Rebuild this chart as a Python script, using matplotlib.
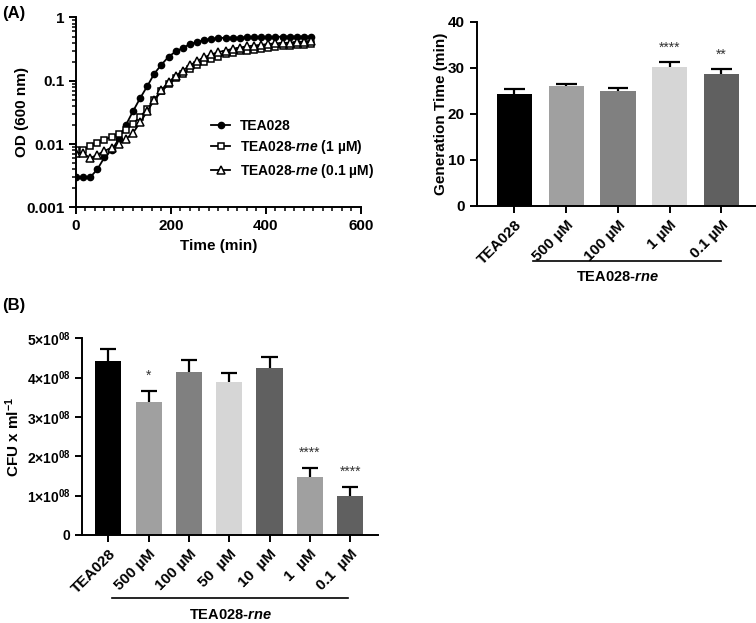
import numpy as np
import matplotlib
matplotlib.use('Agg')
import matplotlib.pyplot as plt
from matplotlib import ticker
from matplotlib.transforms import blended_transform_factory

plt.rcParams['font.family'] = ['Liberation Sans', 'DejaVu Sans']
plt.rcParams['font.weight'] = 'bold'
plt.rcParams['axes.labelweight'] = 'bold'
plt.rcParams['mathtext.fontset'] = 'custom'
plt.rcParams['mathtext.rm'] = 'Liberation Sans:bold'
plt.rcParams['mathtext.bf'] = 'Liberation Sans:bold'
plt.rcParams['mathtext.it'] = 'Liberation Sans:italic:bold'
plt.rcParams['axes.linewidth'] = 1.4
plt.rcParams['xtick.major.width'] = 1.4
plt.rcParams['ytick.major.width'] = 1.4
plt.rcParams['xtick.minor.width'] = 1.1
plt.rcParams['ytick.minor.width'] = 1.1

# growth curves (OD600)
time_min = [0, 15, 30, 45, 60, 75, 90, 105, 120, 135, 150, 165, 180, 195, 210, 225, 240,
            255, 270, 285, 300, 315, 330, 345, 360, 375, 390, 405, 420, 435, 450, 465, 480, 495]
od_wt = [0.003, 0.003, 0.003, 0.004, 0.0062, 0.008, 0.012, 0.02, 0.033, 0.053, 0.082, 0.13,
         0.18, 0.24, 0.29, 0.33, 0.38, 0.41, 0.44, 0.46, 0.47, 0.48, 0.48, 0.48, 0.49, 0.49,
         0.49, 0.49, 0.49, 0.50, 0.50, 0.50, 0.50, 0.50]
od_1um = [0.0082, 0.0082, 0.0093, 0.0105, 0.0118, 0.013, 0.0147, 0.017, 0.021, 0.027, 0.036,
          0.05, 0.068, 0.088, 0.11, 0.13, 0.155, 0.18, 0.2, 0.22, 0.24, 0.26, 0.275, 0.29,
          0.30, 0.31, 0.32, 0.33, 0.34, 0.35, 0.36, 0.365, 0.37, 0.38]
od_01um = [0.0072, 0.0072, 0.006, 0.0068, 0.0078, 0.0088, 0.01, 0.012, 0.015, 0.022, 0.033,
           0.05, 0.072, 0.095, 0.12, 0.145, 0.175, 0.205, 0.235, 0.26, 0.285, 0.3, 0.32,
           0.335, 0.35, 0.36, 0.37, 0.38, 0.39, 0.395, 0.40, 0.41, 0.415, 0.42]
curve_labels = ['TEA028', r'TEA028-$\it{rne}$ (1 µM)', r'TEA028-$\it{rne}$ (0.1 µM)']

# generation time
gen_labels = ['TEA028', '500 µM', '100 µM', '1 µM', '0.1 µM']
gen_time = [24.3, 26.0, 24.9, 30.2, 28.6]
gen_err = [1.0, 0.5, 0.7, 1.1, 1.2]
gen_colors = ['#000000', '#a0a0a0', '#808080', '#d6d6d6', '#606060']
gen_stars = ['', '', '', '****', '**']

# CFU counts
cfu_labels = ['TEA028', '500 µM', '100 µM', '50  µM', '10  µM', '1  µM', '0.1  µM']
cfu = [4.43e8, 3.39e8, 4.15e8, 3.90e8, 4.24e8, 1.48e8, 0.99e8]
cfu_err = [0.29e8, 0.28e8, 0.30e8, 0.21e8, 0.29e8, 0.22e8, 0.24e8]
cfu_colors = ['#000000', '#a0a0a0', '#808080', '#d6d6d6', '#606060', '#a0a0a0', '#606060']
cfu_stars = ['', '*', '', '', '', '****', '****']
cfu_ticklabels = ['0', r'$1{\times}10^{08}$', r'$2{\times}10^{08}$', r'$3{\times}10^{08}$',
                  r'$4{\times}10^{08}$', r'$5{\times}10^{08}$']

fig = plt.figure(figsize=(7.56, 6.23), dpi=100)


def style(ax):
    ax.spines['top'].set_visible(False)
    ax.spines['right'].set_visible(False)
    ax.tick_params(direction='out', length=5, labelsize=11)
    ax.tick_params(which='minor', direction='out', length=3)


def bars(ax, labels, vals, errs, colors, stars, width, cap, pad):
    x = np.arange(len(vals))
    ax.bar(x, vals, width=width, color=colors, edgecolor='none', zorder=2)
    tops = np.array(vals) + np.array(errs)
    ax.vlines(x, vals, tops, color='black', lw=1.6, zorder=3)
    ax.hlines(tops, x - cap, x + cap, color='black', lw=1.6, zorder=3)
    for xi, t, s in zip(x, tops, stars):
        if s:
            ax.text(xi, t + pad, s, ha='center', va='bottom', fontsize=10,
                    fontweight='normal', color='#333333')
    ax.set_xticks(x)
    ax.set_xticklabels(labels, rotation=45, ha='right', rotation_mode='anchor')
    style(ax)


# (A) growth curve
ax1 = fig.add_axes([0.1005, 0.667, 0.377, 0.305])
ax1.plot(time_min, od_wt, '-o', color='black', ms=4.5, lw=1.3, label=curve_labels[0])
ax1.plot(time_min, od_1um, '-s', color='black', mfc='white', ms=5, mew=1.1, lw=1.3,
         label=curve_labels[1])
ax1.plot(time_min, od_01um, '-^', color='black', mfc='white', ms=5.5, mew=1.1, lw=1.3,
         label=curve_labels[2])
ax1.set_yscale('log')
ax1.set_ylim(0.001, 1)
ax1.set_xlim(0, 600)
ax1.set_xticks([0, 200, 400, 600])
ax1.xaxis.set_minor_locator(ticker.MultipleLocator(20))
ax1.yaxis.set_major_locator(ticker.FixedLocator([0.001, 0.01, 0.1, 1]))
ax1.yaxis.set_minor_locator(ticker.LogLocator(base=10, subs=np.arange(2, 10), numticks=20))
ax1.yaxis.set_minor_formatter(ticker.NullFormatter())
ax1.yaxis.set_major_formatter(ticker.FuncFormatter(lambda v, p: '%g' % v))
ax1.set_xlabel('Time (min)', fontsize=11)
ax1.set_ylabel('OD (600 nm)', fontsize=11)
ax1.yaxis.set_label_coords(-0.165, 0.5)
style(ax1)
ax1.legend(loc='center left', bbox_to_anchor=(0.43, 0.307), frameon=False, fontsize=10,
           handlelength=1.4, handletextpad=0.7, labelspacing=0.4)

# (A) generation time
ax2 = fig.add_axes([0.6306, 0.67, 0.3694, 0.295])
bars(ax2, gen_labels, gen_time, gen_err, gen_colors, gen_stars, 0.68, 0.2, 1.6)
ax2.set_ylim(0, 40)
ax2.set_yticks([0, 10, 20, 30, 40])
ax2.set_xlim(-0.73, 4.67)
ax2.set_ylabel('Generation Time (min)', fontsize=11)
ax2.yaxis.set_label_coords(-0.103, 0.5)
tr2 = blended_transform_factory(ax2.transData, ax2.transAxes)
ax2.plot([0.36, 4.0], [-0.304, -0.304], color='black', lw=1.2, transform=tr2, clip_on=False)
ax2.text(2.0, -0.386, r'TEA028-$\it{rne}$', ha='center', va='center', fontsize=10.5,
         transform=tr2)

# (B) CFU
ax3 = fig.add_axes([0.1089, 0.1413, 0.3915, 0.3157])
bars(ax3, cfu_labels, cfu, cfu_err, cfu_colors, cfu_stars, 0.65, 0.2, 0.2e8)
ax3.set_ylim(0, 5e8)
ax3.set_yticks(np.arange(6) * 1e8)
ax3.set_yticklabels(cfu_ticklabels)
ax3.tick_params(axis='y', labelsize=10)
ax3.set_xlim(-0.645, 6.7)
ax3.set_ylabel(r'CFU x ml$^{-1}$', fontsize=11)
ax3.yaxis.set_label_coords(-0.205, 0.5)
tr3 = blended_transform_factory(ax3.transData, ax3.transAxes)
ax3.plot([0.08, 5.96], [-0.322, -0.322], color='black', lw=1.2, transform=tr3, clip_on=False)
ax3.text(3.02, -0.407, r'TEA028-$\it{rne}$', ha='center', va='center', fontsize=10.5,
         transform=tr3)

fig.text(0.003, 0.978, '(A)', fontsize=12, fontweight='bold', va='center')
fig.text(0.003, 0.51, '(B)', fontsize=12, fontweight='bold', va='center')

fig.savefig('out.png', dpi=100)
